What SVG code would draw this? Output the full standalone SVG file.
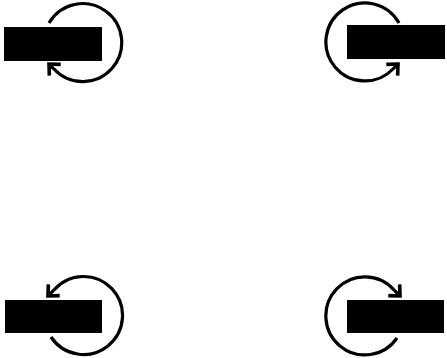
<svg xmlns="http://www.w3.org/2000/svg" width="447" height="358" viewBox="0 0 447 358">
  <style>
    .box { fill: #000; stroke: none; }
    .loop { fill: none; stroke: #000; stroke-width: 3.2; }
  </style>
  <defs>
    <marker id="head" markerUnits="userSpaceOnUse" markerWidth="24" markerHeight="24" refX="0" refY="0" viewBox="-14 -12 16 24" orient="auto" overflow="visible">
      <path d="M -8.5,-8 L 0,0 L -8.5,8" fill="none" stroke="#000" stroke-width="3.6" stroke-linejoin="miter"/>
    </marker>
  </defs>
  <rect width="447" height="358" fill="#fff"/>
  <g id="node-top-left"><rect class="box" x="4" y="27" width="98" height="34"/></g>
  <g id="node-top-right"><rect class="box" x="347" y="25" width="98" height="34"/></g>
  <g id="node-bottom-left"><rect class="box" x="5" y="300" width="97" height="33"/></g>
  <g id="node-bottom-right"><rect class="box" x="347" y="300" width="97" height="33"/></g>
  <g id="connectors">
    <path class="loop" d="M 49,23 A 39 39 0 1 1 54,69 L 49,64" marker-end="url(#head)"/>
    <path class="loop" d="M 399,23 A 39 39 0 1 0 393,69 L 398,64" marker-end="url(#head)"/>
    <path class="loop" d="M 51,337 A 39 39 0 1 0 54,290 L 48,296" marker-end="url(#head)"/>
    <path class="loop" d="M 397,338 A 39 39 0 1 1 394,290 L 400,296" marker-end="url(#head)"/>
  </g>
</svg>
